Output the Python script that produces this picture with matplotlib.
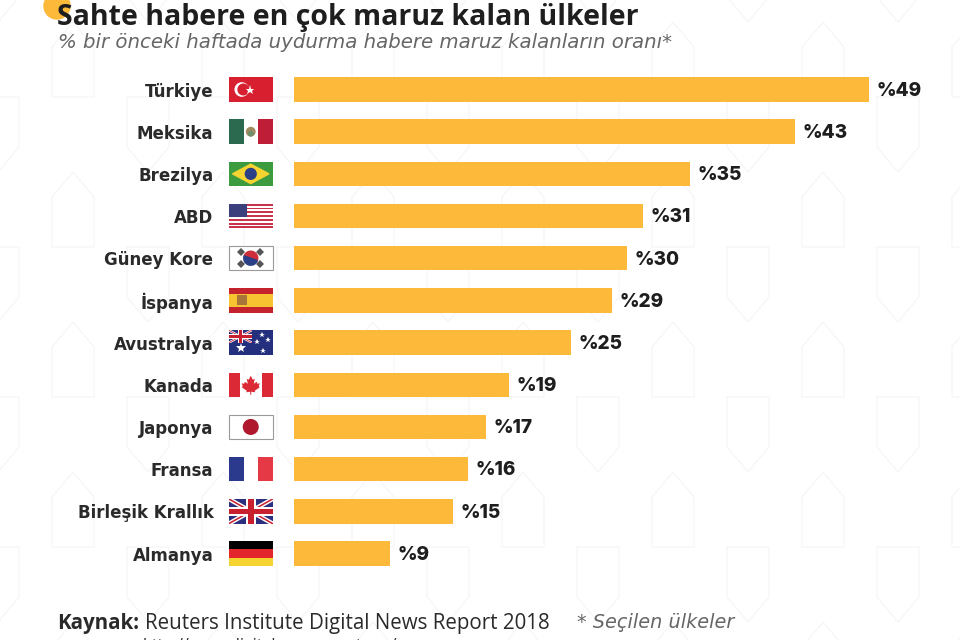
import matplotlib.pyplot as plt
from matplotlib.patches import Rectangle, Circle, Wedge, Polygon

plt.rcParams['font.family'] = ['Open Sans', 'DejaVu Sans']

# Bar lengths as drawn, the printed numbers and the countries
countries = ['Türkiye', 'Meksika', 'Brezilya', 'ABD', 'Güney Kore', 'İspanya',
             'Avustralya', 'Kanada', 'Japonya', 'Fransa', 'Birleşik Krallık', 'Almanya']
lengths = [49, 42.7, 33.8, 29.75, 28.4, 27.1, 23.6, 18.3, 16.4, 14.8, 13.55, 8.2]
printed = [49, 43, 35, 31, 30, 29, 25, 19, 17, 16, 15, 9]

fig, ax = plt.subplots(figsize=(9.6, 6.4))
plt.subplots_adjust(left=294 / 960, right=1, top=1, bottom=0)

# Plot the bars
ax.barh(range(12), lengths, height=0.58, color='#FDB93A')
ax.set_xlim(0, 56.8)
ax.set_ylim(13.05, -2.122)
ax.patch.set_visible(False)
for side in ax.spines:
    ax.spines[side].set_visible(False)
ax.set_xticks([])

# Country names sit left of the flags
ax.set_yticks(range(12))
ax.set_yticklabels(countries, fontsize=12, fontweight='bold', color='#2A2A2A',
                   fontfamily=['DejaVu Sans'])
ax.tick_params(axis='y', length=0, pad=58)

# Value labels
for i in range(12):
    ax.text(lengths[i] + 0.65, i + 0.03, '%' + str(printed[i]), fontsize=13.7, fontweight='heavy',
            color='#1E1E1E', va='center', family=['Inter', 'DejaVu Sans'])

# Pixel axes behind everything for the pattern and the flags
bg_ax = plt.axes([0, 0, 1, 1], zorder=-1)
bg_ax.set_xlim(0, 960)
bg_ax.set_ylim(640, 0)
bg_ax.axis('off')

# House shaped background pattern
for col in range(-1, 7):
    x0 = 52 + 150 * col
    for row in range(0, 5):
        top = 22 + 150 * row
        bg_ax.plot([x0, x0 + 21, x0 + 42, x0 + 42, x0, x0],
                   [top + 25, top, top + 25, top + 75, top + 75, top + 25], color='#F6F6F6', lw=0.9)
    x0 = -23 + 150 * col
    for row in range(-1, 4):
        top = 97 + 150 * row
        bg_ax.plot([x0, x0 + 42, x0 + 42, x0 + 21, x0, x0],
                   [top, top, top + 50, top + 75, top + 50, top], color='#F6F6F6', lw=0.9)

# Yellow dot behind the title
bg_ax.add_patch(Circle((57, 6), 13, color='#FDB93A'))


def box(x, y, w, h, color, z=2):
    bg_ax.add_patch(Rectangle((x, y), w, h, color=color, lw=0, zorder=z))


def union_jack(x, y, w, h, z=3):
    clip = Rectangle((x, y), w, h, transform=bg_ax.transData)
    box(x, y, w, h, '#2B2F7E', z)
    for lw, col in [(3.2, 'white'), (1.1, '#C8202F')]:
        for ys in [(y, y + h), (y + h, y)]:
            line, = bg_ax.plot([x, x + w], ys, color=col, lw=lw * h / 24.5, zorder=z)
            line.set_clip_path(clip)
    box(x + w / 2 - w * 0.12, y, w * 0.24, h, 'white', z)
    box(x, y + h / 2 - h * 0.19, w, h * 0.38, 'white', z)
    box(x + w / 2 - w * 0.07, y, w * 0.14, h, '#C8202F', z)
    box(x, y + h / 2 - h * 0.11, w, h * 0.22, '#C8202F', z)


# Flags, one after the other from top to bottom
fx, fw, fh = 229, 43.5, 24.5
ys = [89.5 + 42.18 * i - fh / 2 for i in range(12)]
mx = fx + fw / 2

# Türkiye
y = ys[0]
box(fx, y, fw, fh, '#D71F30')
bg_ax.add_patch(Circle((mx - 9, y + fh / 2), 6.6, color='white', zorder=3))
bg_ax.add_patch(Circle((mx - 7.4, y + fh / 2), 5.3, color='#D71F30', zorder=4))
bg_ax.plot(mx - 0.5, y + fh / 2, marker='*', ms=6.5, color='white', mew=0, zorder=5)

# Meksika
y = ys[1]
box(fx, y, fw, fh, 'white')
box(fx, y, fw / 3, fh, '#2B6A4E')
box(fx + fw * 2 / 3, y, fw / 3, fh, '#BE1E37')
bg_ax.add_patch(Circle((mx, y + fh / 2), 4.2, color='#A08A60', zorder=3))
bg_ax.add_patch(Circle((mx, y + fh / 2 + 2), 2.2, color='#6E8F6A', zorder=4))

# Brezilya
y = ys[2]
box(fx, y, fw, fh, '#3C9A3F')
bg_ax.add_patch(Polygon([(fx + 3.5, y + fh / 2), (mx, y + 2.5), (fx + fw - 3.5, y + fh / 2), (mx, y + fh - 2.5)],
                        color='#F5D432', zorder=3))
bg_ax.add_patch(Circle((mx, y + fh / 2), 5.4, color='#2A3F85', zorder=4))

# ABD
y = ys[3]
for s in range(13):
    box(fx, y + s * fh / 13, fw, fh / 13 + 0.1, '#C8344A' if s % 2 == 0 else 'white')
box(fx, y, fw * 0.42, fh * 7 / 13, '#3B3F7C', 3)

# Güney Kore
y = ys[4]
bg_ax.add_patch(Rectangle((fx, y), fw, fh, fc='white', ec='#9A9A9A', lw=0.8, zorder=2))
bg_ax.add_patch(Wedge((mx, y + fh / 2), 7, 200, 20, color='#CD2E3A', zorder=3))
bg_ax.add_patch(Wedge((mx, y + fh / 2), 7, 20, 200, color='#2A3F85', zorder=3))
for dx, dy in [(-9.5, -6.2), (9.5, -6.2), (-9.5, 6.2), (9.5, 6.2)]:
    bg_ax.plot(mx + dx, y + fh / 2 + dy, marker='D', ms=4.5, color='#555555', mew=0, zorder=3)

# İspanya
y = ys[5]
box(fx, y, fw, fh, '#C4222D')
box(fx, y + fh / 4, fw, fh / 2, '#F7C331')
box(fx + 8, y + 7.2, 10, 10, '#A8763A', 3)

# Avustralya
y = ys[6]
box(fx, y, fw, fh, '#24307E')
union_jack(fx, y, fw * 0.52, fh * 0.5)
bg_ax.plot(fx + 11.7, y + fh * 0.74, marker='*', ms=7.5, color='white', mew=0, zorder=4)
for dx, dy in [(33, 4.8), (34, 20.5), (28, 11.5), (39, 10)]:
    bg_ax.plot(fx + dx, y + dy, marker='*', ms=4, color='white', mew=0, zorder=4)

# Kanada
y = ys[7]
box(fx, y, fw, fh, 'white')
box(fx, y, fw / 4, fh, '#DB2A36')
box(fx + fw * 3 / 4, y, fw / 4, fh, '#DB2A36')
leaf = [(0, -9), (2, -5), (4, -6), (3, -1), (6, -3), (6.5, -1), (9, -1.5), (8, 1.5), (9, 2.5),
        (4, 6), (4.5, 7.5), (0.5, 7), (0.5, 10), (-0.5, 10), (-0.5, 7), (-4.5, 7.5), (-4, 6),
        (-9, 2.5), (-8, 1.5), (-9, -1.5), (-6.5, -1), (-6, -3), (-3, -1), (-4, -6), (-2, -5)]
bg_ax.add_patch(Polygon([(mx + px, y + fh / 2 + py) for px, py in leaf], color='#DB2A36', lw=0, zorder=3))

# Japonya
y = ys[8]
bg_ax.add_patch(Rectangle((fx, y), fw, fh, fc='white', ec='#9A9A9A', lw=0.8, zorder=2))
bg_ax.add_patch(Circle((mx, y + fh / 2), 7.3, color='#B0182D', zorder=3))

# Fransa
y = ys[9]
box(fx, y, fw / 3, fh, '#2B3A8C')
box(fx + fw / 3, y, fw / 3, fh, 'white')
box(fx + fw * 2 / 3, y, fw / 3, fh, '#E63946')

# Birleşik Krallık
union_jack(fx, ys[10], fw, fh)

# Almanya
y = ys[11]
box(fx, y, fw, fh / 3, '#000000')
box(fx, y + fh / 3, fw, fh / 3, '#E2262B')
box(fx, y + fh * 2 / 3, fw, fh / 3, '#F5D431')

# Titles
bg_ax.text(57, 17, 'Sahte habere en çok maruz kalan ülkeler', fontsize=20.5, fontweight='bold',
           color='#1E1E1E', va='center', zorder=6)
bg_ax.text(58, 43, '% bir önceki haftada uydurma habere maruz kalanların oranı*', fontsize=14.2,
           style='italic', color='#666666', va='center', family=['DejaVu Sans'], zorder=6)

# Source lines, the last one runs off the bottom edge
bg_ax.text(57, 623, 'Kaynak:', fontsize=14.8, fontweight='bold', color='#2A2A2A', va='center', zorder=6)
bg_ax.text(145, 623, 'Reuters Institute Digital News Report 2018', fontsize=14.8, color='#2A2A2A',
           va='center', zorder=6)
bg_ax.text(143, 646, 'http://www.digitalnewsreport.org/', fontsize=11.5, color='#2A2A2A', va='center', zorder=6)
bg_ax.text(577, 623, '* Seçilen ülkeler', fontsize=13.9, style='italic', color='#666666', va='center',
           family=['DejaVu Sans'], zorder=6)

plt.savefig('out.png', dpi=100)
